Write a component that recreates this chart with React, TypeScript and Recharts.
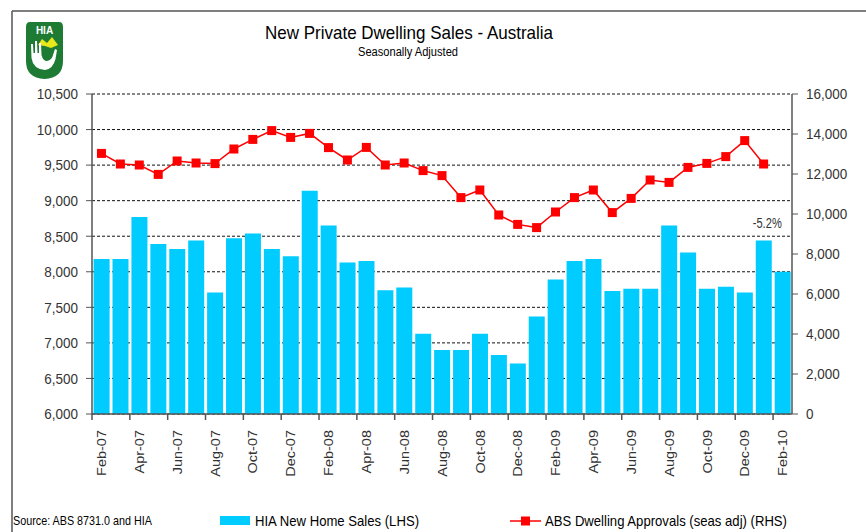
import React from 'react';
import { ComposedChart, Bar, Line, XAxis, YAxis, CartesianGrid, LabelList } from 'recharts';

const months = [
  'Feb-07', 'Mar-07', 'Apr-07', 'May-07', 'Jun-07', 'Jul-07', 'Aug-07', 'Sep-07', 'Oct-07', 'Nov-07', 'Dec-07', 'Jan-08',
  'Feb-08', 'Mar-08', 'Apr-08', 'May-08', 'Jun-08', 'Jul-08', 'Aug-08', 'Sep-08', 'Oct-08', 'Nov-08', 'Dec-08', 'Jan-09',
  'Feb-09', 'Mar-09', 'Apr-09', 'May-09', 'Jun-09', 'Jul-09', 'Aug-09', 'Sep-09', 'Oct-09', 'Nov-09', 'Dec-09', 'Jan-10',
  'Feb-10',
];

const homeSales = [
  8180, 8180, 8770, 8390, 8320, 8440, 7710, 8470, 8540, 8320, 8220, 9140,
  8650, 8130, 8150, 7740, 7780, 7130, 6900, 6900, 7130, 6830, 6710, 7370,
  7890, 8150, 8180, 7730, 7760, 7760, 8650, 8270, 7760, 7790, 7710, 8440,
  8000,
];

const approvals: (number | null)[] = [
  13030, 12500, 12450, 11980, 12650, 12550, 12520, 13250, 13730, 14170, 13830, 14030,
  13320, 12700, 13330, 12450, 12550, 12170, 11920, 10820, 11200, 9950, 9480, 9320,
  10100, 10820, 11200, 10070, 10780, 11700, 11580, 12330, 12530, 12870, 13670, 12500,
  null,
];

const leftTicks = [6000, 6500, 7000, 7500, 8000, 8500, 9000, 9500, 10000, 10500];
const rightTicks = [0, 2000, 4000, 6000, 8000, 10000, 12000, 14000, 16000];

const annotationMonth = 'Jan-10';
const annotationText = '-5.2%';

const titleText = 'New Private Dwelling Sales - Australia';
const subtitleText = 'Seasonally Adjusted';
const sourceText = 'Source: ABS 8731.0 and HIA';
const salesName = 'HIA New Home Sales (LHS)';
const approvalsName = 'ABS Dwelling Approvals (seas adj) (RHS)';

const data = months.map((m, i) => ({
  month: m,
  sales: homeSales[i],
  approvals: approvals[i],
  note: m === annotationMonth ? annotationText : '',
}));

const FONT = "'Liberation Sans Narrow','Arial Narrow','Liberation Sans',Arial,sans-serif";
const AXIS = '#555555';
const BAR = '#00CCFF';
const RED = '#FF0000';

const fmt = (v: number) => v.toLocaleString('en-US');

const XTick = (props: any) => {
  const { x, y, payload } = props;
  const off = payload && typeof payload.offset === 'number' && payload.offset > 0 ? payload.offset : 700 / 37 / 2;
  const ty = y + 16;
  return (
    <g>
      <line x1={x - off} x2={x - off} y1={y} y2={y + 6} stroke={AXIS} strokeWidth={1.5} />
      <g transform={`translate(${x}, ${ty}) rotate(-90)`}>
        <text x={0} y={0} dy="0.35em" textAnchor="end" fontFamily={FONT} fontSize={14.5} fill="#333" transform="scale(1,0.92)">
          {payload.value}
        </text>
      </g>
    </g>
  );
};

const YTick = (props: any) => {
  const { x, y, payload, textAnchor } = props;
  return (
    <g transform={`translate(${x}, ${y}) scale(0.9,1)`}>
      <text x={0} y={0} dy="0.355em" textAnchor={textAnchor} fontFamily={FONT} fontSize={15} fill="#333">
        {fmt(payload.value)}
      </text>
    </g>
  );
};

const SquareDot = (props: any) => {
  const { cx, cy, index } = props;
  if (cx == null || cy == null || isNaN(cy)) return <g key={`d-${index}`} />;
  return <rect key={`d-${index}`} x={cx - 4.5} y={cy - 4.5} width={9} height={9} fill={RED} />;
};

const NoteLabel = (props: any) => {
  const { x, y, width, value } = props;
  if (!value) return null;
  return (
    <text
      x={x + width / 2 - 11}
      y={y - 12}
      textLength={29}
      lengthAdjust="spacingAndGlyphs"
      fontFamily={FONT}
      fontSize={14}
      fill="#333"
    >
      {value}
    </text>
  );
};

const Logo = () => (
  <g>
    <path d="M30,22 H59 Q63,22 63,27 V61 Q63,78 44.5,79 Q26,78 26,61 V27 Q26,22 30,22 Z" fill="#1E7B34" />
    <text x={44.5} y={34} textAnchor="middle" fontFamily="'Liberation Sans',Arial,sans-serif" fontWeight="bold" fontSize={10} fill="#fff">
      HIA
    </text>
    <path d="M38,45 L42,39 L47,43 L52,37 L58,45 L51,48 L45,46 Z" fill="#E8E81A" />
    <path
      d="M31,44 L33,44 L33.5,53 L35,53 L35,41 L37,41 L37.5,53 L39,53 L39,43 L41,43 L41.5,55 Q43,61 47,61 Q52,60 53,55 L55,49 L57,50 L55.5,59 Q53,69 45,70 Q33,69 31.5,58 Z"
      fill="#fff"
    />
  </g>
);

export default function App() {
  return (
    <div style={{ position: 'absolute', left: 0, top: 0, width: 866, height: 532, background: '#fff' }}>
      <ComposedChart
        width={866}
        height={532}
        data={data}
        margin={{ top: 94, right: 14, bottom: 58, left: 32 }}
        barCategoryGap={1.6}
      >
        <CartesianGrid yAxisId="left" vertical={false} stroke="#111" strokeDasharray="3 2" strokeWidth={1} />
        <XAxis
          dataKey="month"
          interval={1}
          height={60}
          tickSize={0}
          tickMargin={0}
          tickLine={false}
          axisLine={{ stroke: AXIS, strokeWidth: 1.5 }}
          tick={<XTick />}
        />
        <YAxis
          yAxisId="left"
          domain={[6000, 10500]}
          ticks={leftTicks}
          interval={0}
          width={60}
          tickSize={6}
          tickMargin={8}
          axisLine={{ stroke: AXIS, strokeWidth: 1.5 }}
          tickLine={{ stroke: AXIS, strokeWidth: 1 }}
          tick={<YTick />}
          allowDataOverflow
        />
        <YAxis
          yAxisId="right"
          orientation="right"
          domain={[0, 16000]}
          ticks={rightTicks}
          interval={0}
          width={60}
          tickSize={6}
          tickMargin={8}
          axisLine={{ stroke: AXIS, strokeWidth: 1.5 }}
          tickLine={{ stroke: AXIS, strokeWidth: 1 }}
          tick={<YTick />}
          allowDataOverflow
        />
        <Bar yAxisId="left" dataKey="sales" fill={BAR} isAnimationActive={false}>
          <LabelList dataKey="note" content={<NoteLabel />} />
        </Bar>
        <Line
          yAxisId="right"
          dataKey="approvals"
          stroke={RED}
          strokeWidth={1.5}
          dot={<SquareDot />}
          activeDot={false}
          connectNulls={false}
          isAnimationActive={false}
        />
      </ComposedChart>
      <svg width={866} height={532} style={{ position: 'absolute', left: 0, top: 0, pointerEvents: 'none' }}>
        <line x1={12} y1={11} x2={866} y2={11} stroke="#555" strokeWidth={1.5} />
        <line x1={12} y1={11} x2={12} y2={532} stroke="#555" strokeWidth={1.5} />
        <Logo />
        <text x={265} y={39} textLength={288} lengthAdjust="spacingAndGlyphs" fontFamily={FONT} fontSize={19} fill="#000">
          {titleText}
        </text>
        <text x={358} y={56} textLength={100} lengthAdjust="spacingAndGlyphs" fontFamily={FONT} fontSize={12} fill="#000">
          {subtitleText}
        </text>
        <text x={13} y={525} textLength={139} lengthAdjust="spacingAndGlyphs" fontFamily={FONT} fontSize={13} fill="#000">
          {sourceText}
        </text>
        <rect x={220} y={516} width={30} height={9} fill={BAR} />
        <text x={255} y={526} textLength={164} lengthAdjust="spacingAndGlyphs" fontFamily={FONT} fontSize={15} fill="#000">
          {salesName}
        </text>
        <line x1={510} y1={521} x2={541} y2={521} stroke={RED} strokeWidth={1.5} />
        <rect x={521} y={516.5} width={9} height={9} fill={RED} />
        <text x={545} y={526} textLength={242} lengthAdjust="spacingAndGlyphs" fontFamily={FONT} fontSize={15} fill="#000">
          {approvalsName}
        </text>
      </svg>
    </div>
  );
}
